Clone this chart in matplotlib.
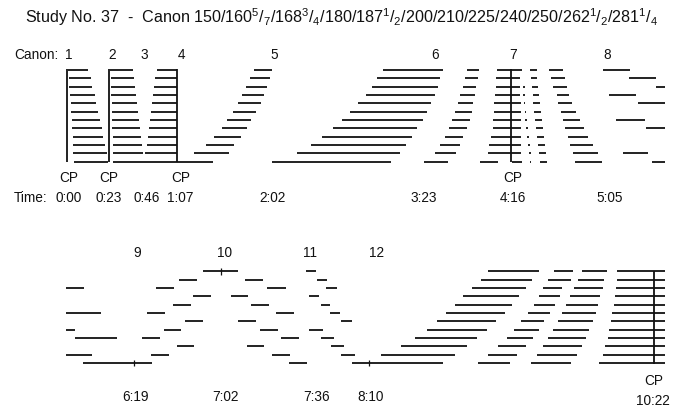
import numpy as np
import matplotlib
matplotlib.use("Agg")
import matplotlib.pyplot as plt

plt.rcParams['font.family'] = ['Liberation Sans', 'DejaVu Sans']
plt.rcParams['mathtext.fontset'] = 'custom'
plt.rcParams['mathtext.rm'] = 'Liberation Sans'
plt.rcParams['mathtext.default'] = 'rm'

nan = np.nan
voices = np.arange(1, 13)

# ---- upper system: canons 1-8 (x = horizontal position, one value per voice 1..12)
canon1_start = [68.3, 69, 69.3, 70, 70.7, 71, 71.7, 72, 72.7, 73, 73.3, 74]
canon1_end = [88.3, 90.7, 92.3, 94.7, 96, 97.7, 100, 101.7, 103.3, 105, 106.7, 108.3]
canon2_start = [110, 110.7, 111, 111.3, 111.7, 111.7, 112, 112.3, 112.7, 113, 113.3, 113.3]
canon2_end = [132.7, 134, 135.3, 136, 136.7, 138.3, 139, 140, 141, 142, 143.3, 144]
canon3_start = [156.7, 155, 154.3, 153.3, 152.3, 151, 150, 148.7, 147.7, 146.7, 145.3, 144]
canon3_end = [176.7] * 12
canon5_start = [253.5, 250, 246.3, 242, 238.3, 233.3, 227.3, 222.3, 214.3, 205.7, 193.5, 176.7]
canon5_end = [271.7, 269.7, 267.3, 264.2, 260.7, 255.8, 251.2, 246.7, 240.8, 234, 228.5, 213.3]
canon6_start = [382.7, 376.7, 371.7, 366, 358.3, 350, 341.7, 332.7, 322.3, 310.7, 297.3, 271.7]
canon6_end = [442.5, 440, 437.5, 434.7, 431.2, 427.3, 422.7, 417.3, 411.7, 405.7, 400, 390.7]
canon6b_start = [467, 465, 462.7, 460, 457.5, 455, 451.5, 449, 445, 440, 434.7, 424.2]
canon6b_end = [479, 477.5, 476, 474.5, 473, 472, 470, 466.5, 463, 460, 455.5, 448]
canon7_start = [496.7, 496.3, 496, 495, 494.3, 494, 493.3, 492.7, 491, 489.3, 488.3, 480]
canon7_end = [521.7, 520, 519.5, 520, 520.5, 520.5, 521, 521, 521, 521, 521, 498.3]
canon7_after = (511.7, 521.7)  # voice 12 piece after the CP
canon7_dots = [nan, nan, 523.7, 524.2, 524.5, 525.3, 525.8, 527.2, 528, 529, 529.7, 530.3]
canon7d_start = [530, 531, 532, 532.7, 533.3, 534.3, 535, 536, 537.3, 538.3, 539, 540]
canon7d_end = [536.7, 537.3, 538.3, 539.3, 540, 540.7, 541.7, 543.3, 544, 545, 546, 546.7]
canon7e_start = [548.5, 551.3, 553.3, 556.5, 558.3, 560.8, 563, 565, 567.8, 570, 572.5, 575]
canon7e_end = [563, 565, 566.7, 569, 572, 575.5, 579.7, 583.7, 588.3, 592.5, 597.5, 602]
canon8_start = [603.3, 629.3, 655.5, 609.3, 638, nan, 615.8, 646, nan, nan, 623.3, 651.7]
canon8_end = [630, 656, 665, 636, 664.5, nan, 645, 664.5, nan, nan, 648, 665]
upper_cp = [66.7, 109, 176.7, 511]

upper_numbers = ["1", "2", "3", "4", "5", "6", "7", "8"]
upper_number_x = [69, 112.5, 144.2, 181.3, 274.2, 435, 513.3, 606.7]
upper_times = ["0:00", "0:23", "0:46", "1:07", "2:02", "3:23", "4:16", "5:05"]
upper_time_x = [68.3, 108.3, 146.7, 180, 273, 423.7, 512.5, 609.7]
upper_cp_x = [69.2, 109.2, 180.8, 512.5]

# ---- lower system: canons 9-12, (voice, start, end)
canon9_segs = [(3, 66, 84), (6, 66, 100.7), (8, 66, 75), (9, 75, 117.3),
               (11, 66, 92.3), (12, 82.7, 151.7),
               (11, 151, 169.3), (9, 142.3, 160.3), (6, 147.3, 165.3), (3, 156, 174.3),
               (8, 164, 181.3), (5, 173.3, 190.7), (10, 176.7, 194.3), (2, 179, 196.7),
               (7, 185.3, 203.3), (4, 192.7, 210.7)]
canon10_segs = [(1, 202.7, 238.3),
                (4, 230.7, 248.3), (7, 238.3, 256), (2, 245, 262.7), (10, 246.7, 264.3),
                (5, 250.7, 268.7), (8, 260, 277.7), (3, 267.3, 285.7), (11, 272.3, 290),
                (6, 275.7, 294), (9, 280.7, 298.7), (12, 289, 306.7)]
canon11_segs = [(1, 306, 316), (4, 309, 318.7), (8, 309.3, 322.7), (2, 316.7, 326.7),
                (5, 320.7, 330), (9, 321, 334), (3, 326, 336.7), (6, 330, 340),
                (10, 331, 344.3), (7, 340.7, 352.3), (11, 340.7, 355)]
canon12a_start = [488.3, 480.7, 471.7, 463.3, 455, 446, 436.7, 427.3, 415, 400.7, 380.7, 352.3]
canon12a_end = [539.3, 531.7, 525.7, 519, 511.7, 505, 496, 486.7, 476.7, 466.7, 455, 442.7]
canon12b_start = [553.5, 548.3, 543.3, 539, 534, 528.3, 521, 514, 506.7, 498.3, 488.3, 478.3]
canon12b_end = [573, 570.7, 561.7, 560, 555, 550, 544.3, 539.3, 533.3, 526, 517.3, 509.7]
canon12c_start = [581.7, 577.7, 574, 570, 566, 562.3, 557.7, 553.3, 548.3, 543.3, 537.3, 531.3]
canon12c_end = [606.7, 604.3, 602.7, 600, 598.3, 595.7, 592.7, 589.3, 585.7, 581.7, 576.7, 571.2]
canon12d_start = [617.3, 616.7, 615.7, 615, 614, 612.3, 610.7, 609.3, 607.7, 605, 602.7, 598.7]
canon12d_end = [664.7] * 12
lower_cp = 654.3
lower_marks = [(1, 221), (12, 134), (12, 369.3)]

lower_numbers = ["9", "10", "11", "12"]
lower_number_x = [136.7, 225, 310, 376.7]
lower_times = ["6:19", "7:02", "7:36", "8:10"]
lower_time_x = [135.8, 225.3, 316.3, 370.8]

title = ("Study No. 37  -  Canon 150/160$^5$/$_7$/168$^3$/$_4$/180/187$^1$/$_2$"
         "/200/210/225/240/250/262$^1$/$_2$/281$^1$/$_4$")

# ---- drawing
upper_top, lower_top, gap = 70.0, 271.3, 8.35
ink = "#111111"
lw = 1.3


def row_y(top, v):
    return top + (np.asarray(v) - 1) * gap


fig = plt.figure(figsize=(6.83, 4.19), dpi=100)
ax = fig.add_axes([0, 0, 1, 1])
ax.set_xlim(0, 683)
ax.set_ylim(419, 0)
ax.axis("off")


def draw_rows(top, starts, ends):
    y = row_y(top, voices)
    ax.hlines(y, starts, ends, color=ink, lw=lw)


for s, e in [(canon1_start, canon1_end), (canon2_start, canon2_end),
             (canon3_start, canon3_end), (canon5_start, canon5_end),
             (canon6_start, canon6_end), (canon6b_start, canon6b_end),
             (canon7_start, canon7_end), (canon7d_start, canon7d_end),
             (canon7e_start, canon7e_end), (canon8_start, canon8_end)]:
    draw_rows(upper_top, s, e)

ax.hlines(row_y(upper_top, 12), *canon7_after, color=ink, lw=lw)
dots = np.array(canon7_dots)
ax.hlines(row_y(upper_top, voices), dots - 0.8, dots + 0.8, color=ink, lw=lw)
ax.vlines(upper_cp, row_y(upper_top, 1) - 0.8, row_y(upper_top, 12) + 0.6,
          color=ink, lw=1.3)

for segs in [canon9_segs, canon10_segs, canon11_segs]:
    v, s, e = zip(*segs)
    ax.hlines(row_y(lower_top, v), s, e, color=ink, lw=lw)
for s, e in [(canon12a_start, canon12a_end), (canon12b_start, canon12b_end),
             (canon12c_start, canon12c_end), (canon12d_start, canon12d_end)]:
    draw_rows(lower_top, s, e)
ax.vlines(lower_cp, row_y(lower_top, 1) - 0.8, row_y(lower_top, 12) + 0.6,
          color=ink, lw=1.3)
for v, x in lower_marks:
    y = row_y(lower_top, v)
    ax.vlines(x, y - 3.3, y + 3.3, color=ink, lw=0.9)

# ---- text
fs = 9.8
ax.text(25, 17, title, fontsize=11.6, ha="left", va="center", color=ink)
ax.text(14, 55, "Canon:", fontsize=fs, ha="left", va="center", color=ink)
for lab, x in zip(upper_numbers, upper_number_x):
    ax.text(x, 55, lab, fontsize=fs, ha="center", va="center", color=ink)
for x in upper_cp_x:
    ax.text(x, 178.3, "CP", fontsize=fs, ha="center", va="center", color=ink)
ax.text(14, 197.5, "Time:", fontsize=fs, ha="left", va="center", color=ink)
for lab, x in zip(upper_times, upper_time_x):
    ax.text(x, 197.5, lab, fontsize=fs, ha="center", va="center", color=ink)

for lab, x in zip(lower_numbers, lower_number_x):
    ax.text(x, 252.7, lab, fontsize=fs, ha="center", va="center", color=ink)
for lab, x in zip(lower_times, lower_time_x):
    ax.text(x, 396.7, lab, fontsize=fs, ha="center", va="center", color=ink)
ax.text(653.3, 381, "CP", fontsize=fs, ha="center", va="center", color=ink)
ax.text(653.3, 401, "10:22", fontsize=fs, ha="center", va="center", color=ink)

fig.savefig("out.png", dpi=100, facecolor="white")
